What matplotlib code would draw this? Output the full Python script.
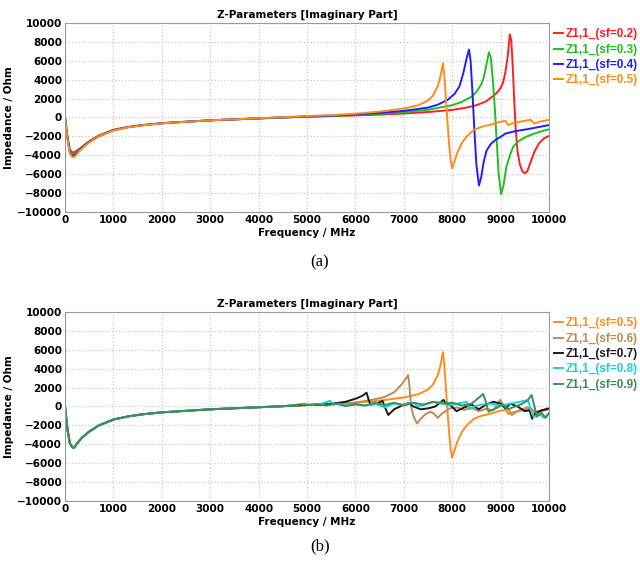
import matplotlib
matplotlib.use("Agg")
import matplotlib.pyplot as plt

# ---- datos ----
# tramo bajo (0 - 5000 MHz), panel (a)
f_low_a = [0, 50, 100, 150, 200, 300, 400, 500, 700, 1000, 1300, 1600, 2000, 2500, 3000, 3500, 4000, 4500, 5000]
z_low_02 = [0, -2000, -3400, -3700, -3650, -3300, -2900, -2500, -1900, -1300, -1000, -800, -600, -450, -300, -200, -100, 0, 80]
z_low_03 = [0, -2100, -3600, -3900, -3850, -3400, -2950, -2550, -1950, -1330, -1020, -810, -610, -450, -300, -200, -100, 0, 90]
z_low_04 = [0, -2200, -3700, -4050, -4000, -3500, -3000, -2600, -2000, -1350, -1030, -820, -610, -450, -300, -200, -90, 10, 110]
z_low_05 = [0, -2300, -3800, -4200, -4150, -3550, -3050, -2650, -2000, -1380, -1050, -830, -620, -460, -300, -190, -80, 30, 150]

# tramo de resonancia, panel (a)
f_hi_02 = [5500, 6000, 6500, 7000, 7500, 8000, 8300, 8500, 8700, 8800, 8900, 9000, 9050, 9100, 9150, 9190, 9220,
           9250, 9280, 9310, 9350, 9400, 9450, 9500, 9550, 9600, 9700, 9800, 9900, 10000]
z_hi_02 = [150, 220, 300, 420, 580, 800, 1050, 1300, 1700, 2100, 2500, 3100, 3700, 4800, 6600, 8800, 8200,
           5500, 2000, -1000, -3600, -5000, -5700, -5900, -5700, -5000, -3600, -2700, -2200, -1950]

f_hi_03 = [5500, 6000, 6500, 7000, 7500, 8000, 8200, 8400, 8500, 8600, 8650, 8700, 8760, 8800, 8840, 8880, 8920,
           8960, 9010, 9060, 9120, 9200, 9260, 9350, 9450, 9550, 9700, 9850, 10000]
z_hi_03 = [170, 260, 380, 560, 820, 1300, 1650, 2200, 2700, 3500, 4200, 5400, 6900, 6300, 4000, 1000, -2500,
           -6000, -8100, -7200, -5200, -3900, -3100, -2600, -2250, -2000, -1700, -1450, -1250]

f_hi_04 = [5500, 6000, 6500, 7000, 7500, 7700, 7900, 8050, 8150, 8230, 8300, 8347, 8380, 8420, 8460, 8500, 8553,
           8600, 8650, 8710, 8800, 8900, 9000, 9100, 9300, 9540, 9800, 10000]
z_hi_04 = [200, 320, 480, 700, 1050, 1350, 1850, 2500, 3300, 4700, 6300, 7200, 6000, 2500, -1500, -5000, -7200,
           -6300, -4700, -3500, -2800, -2350, -2050, -1700, -1450, -1250, -1000, -800]

f_hi_05 = [5500, 6000, 6500, 7000, 7300, 7500, 7600, 7700, 7750, 7810, 7840, 7870, 7900, 7940, 7970, 8000, 8050,
           8100, 8200, 8300, 8450, 8600, 8800, 9000, 9100, 9160, 9250, 9400, 9550, 9620, 9700, 9800, 10000]
z_hi_05 = [250, 400, 620, 950, 1300, 1800, 2300, 3300, 4200, 5750, 4200, 2000, -300, -3000, -4600, -5400, -4600,
           -3800, -2700, -2000, -1300, -1000, -750, -450, -350, -800, -600, -450, -300, -250, -650, -450, -250]

# panel (b): tramo bajo comun
f_low_b = [0, 50, 100, 150, 180, 250, 350, 500, 700, 1000, 1300, 1600, 2000, 2500, 3000, 3500, 4000, 4500]
z_low_b = [0, -2400, -3900, -4300, -4400, -3900, -3300, -2650, -2000, -1380, -1050, -830, -620, -460, -300, -190, -80, 30]

f_b_05 = [4700, 5000] + f_hi_05
z_b_05 = [80, 150] + z_hi_05

f_b_06 = [4700, 5000, 5300, 5600, 6000, 6300, 6600, 6800, 6950, 7050, 7090, 7120, 7150, 7200, 7270, 7350, 7450,
          7550, 7620, 7700, 7800, 7950, 8100, 8250, 8400, 8550, 8700, 8850, 8990, 9050, 9150, 9230, 9350, 9450,
          9550, 9650, 9750, 9850, 10000]
z_b_06 = [80, 150, 200, 280, 420, 650, 1000, 1500, 2300, 3000, 3330, 2000, 0, -1000, -1800, -1300, -800,
          -550, -750, -1200, -700, -200, -100, -350, -150, -500, -250, -400, 700, 200, -200, -900, -500, -300,
          -100, -300, -900, -500, -300]

f_b_07 = [4700, 5000, 5300, 5500, 5800, 6030, 6150, 6230, 6280, 6320, 6450, 6560, 6620, 6680, 6800, 7000, 7100,
          7200, 7350, 7500, 7650, 7820, 7870, 7950, 8090, 8250, 8400, 8550, 8700, 8850, 9000, 9100, 9200, 9350,
          9500, 9600, 9650, 9720, 9850, 10000]
z_b_07 = [100, 150, 200, 280, 500, 870, 1150, 1460, 600, 200, 300, 600, -200, -900, -300, 200, 350,
          0, -300, -200, 0, 700, 300, 200, -500, -100, 200, -300, 200, 500, 300, -200, 300, 0,
          -500, -400, -1300, -700, -400, -200]

f_b_08 = [4700, 4850, 4950, 5100, 5300, 5475, 5550, 5650, 5800, 6000, 6200, 6400, 6600, 6800, 7000, 7200, 7300,
          7450, 7600, 7800, 7900, 8100, 8300, 8360, 8450, 8600, 8800, 9000, 9200, 9400, 9570, 9620, 9680, 9800,
          9900, 10000]
z_b_08 = [100, 250, 300, 150, 300, 600, 200, 300, 100, 200, 100, 300, -100, 300, 200, 400, 0,
          200, 450, 400, 100, 300, 500, -300, 0, 200, 300, 100, 300, 500, 700, -300, -1100, -800,
          -1200, -700]

f_b_09 = [4700, 4850, 5000, 5200, 5400, 5600, 5800, 6000, 6200, 6400, 6600, 6800, 7000, 7200, 7400, 7600, 7800,
          8000, 8200, 8400, 8640, 8700, 8750, 8900, 9050, 9150, 9300, 9450, 9550, 9640, 9700, 9750, 9850, 9930,
          10000]
z_b_09 = [100, 200, 150, 250, 100, 300, 50, 250, 100, 400, 150, 400, 100, 400, 200, 500, 300,
          400, 100, 300, 1320, 400, -550, -200, 200, -300, 0, 300, 600, 1220, 0, -1080, -700, -1200,
          -700]

etiquetas_a = ["Z1,1_(sf=0.2)", "Z1,1_(sf=0.3)", "Z1,1_(sf=0.4)", "Z1,1_(sf=0.5)"]
etiquetas_b = ["Z1,1_(sf=0.5)", "Z1,1_(sf=0.6)", "Z1,1_(sf=0.7)", "Z1,1_(sf=0.8)", "Z1,1_(sf=0.9)"]
colores_a = ["#ff1f1f", "#1fbf1f", "#1f1fff", "#ff8c1a"]
colores_b = ["#ff8c1a", "#c08a55", "#1a1a1a", "#19d2d8", "#3d8f55"]

series_a = [
    (f_low_a + f_hi_02, z_low_02 + z_hi_02),
    (f_low_a + f_hi_03, z_low_03 + z_hi_03),
    (f_low_a + f_hi_04, z_low_04 + z_hi_04),
    (f_low_a + f_hi_05, z_low_05 + z_hi_05),
]
series_b = [
    (f_low_b + f_b_05, z_low_b + z_b_05),
    (f_low_b + f_b_06, z_low_b + z_b_06),
    (f_low_b + f_b_07, z_low_b + z_b_07),
    (f_low_b + f_b_08, z_low_b + z_b_08),
    (f_low_b + f_b_09, z_low_b + z_b_09),
]

fig = plt.figure(figsize=(6.4, 5.65), dpi=100)
ax_a = fig.add_axes([0.1016, 0.6248, 0.7562, 0.3345])
ax_b = fig.add_axes([0.1016, 0.1133, 0.7562, 0.3345])


def dibujar(ax, series, etiquetas, colores):
    for (f, z), lab, col in zip(series, etiquetas, colores):
        ax.plot(f, z, color=col, lw=1.4, label=lab)
    ax.set_xlim(0, 10000)
    ax.set_ylim(-10000, 10000)
    ax.set_xticks(range(0, 10001, 1000))
    ax.set_yticks(range(-10000, 10001, 2000))
    ax.grid(True, color="#c8c8c8", linestyle=":", linewidth=0.9)
    ax.tick_params(length=0, labelsize=7.5, pad=2)
    for t in ax.get_xticklabels() + ax.get_yticklabels():
        t.set_fontweight("bold")
    for s in ax.spines.values():
        s.set_color("#9a9a9a")
        s.set_linewidth(0.8)
    ax.set_title("Z-Parameters [Imaginary Part]", fontsize=7.5, fontweight="bold", pad=4)
    ax.set_xlabel("Frequency / MHz", fontsize=7.5, fontweight="bold", labelpad=2)
    ax.set_ylabel("Impedance / Ohm", fontsize=7.5, fontweight="bold", labelpad=2)
    leg = ax.legend(loc="upper left", bbox_to_anchor=(1.003, 0.99), frameon=False,
                    handlelength=0.8, handletextpad=0.15, labelspacing=0.28,
                    borderaxespad=0.0, borderpad=0.3,
                    prop={"family": "Liberation Sans", "weight": "bold", "size": 8.5},
                    labelcolor="linecolor")
    return leg


dibujar(ax_a, series_a, etiquetas_a, colores_a)
dibujar(ax_b, series_b, etiquetas_b, colores_b)

fig.text(0.5, 1 - 262 / 565, "(a)", ha="center", va="center", fontsize=12, family="Liberation Serif")
fig.text(0.5, 1 - 546 / 565, "(b)", ha="center", va="center", fontsize=12, family="Liberation Serif")

fig.savefig("out.png", dpi=100)
